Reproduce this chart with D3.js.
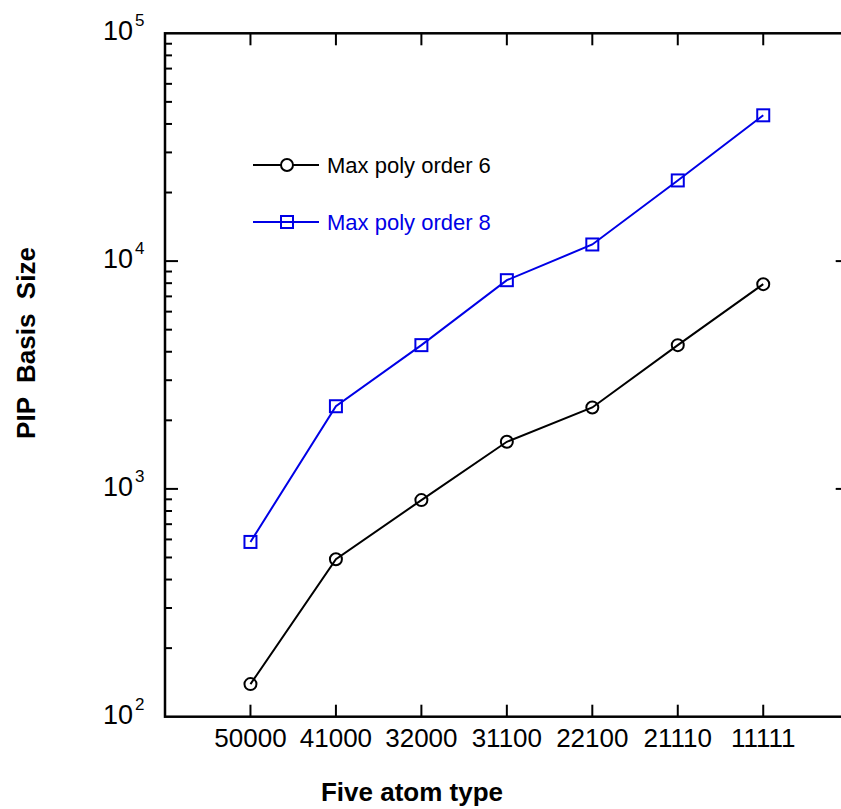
<!DOCTYPE html>
<html>
<head>
<meta charset="utf-8">
<script src="https://cdn.jsdelivr.net/npm/d3@7/dist/d3.min.js"></script>
<style>
  body { margin: 0; background: #fff; }
  svg { display: block; font-family: "Liberation Sans", Arial, sans-serif; }
</style>
</head>
<body>
<svg id="chart" width="841" height="809"></svg>
<script>
// atom types along the x axis
const types = ["50000", "41000", "32000", "31100", "22100", "21110", "11111"];
// PIP basis sizes
const order6 = [139, 491, 893, 1610, 2278, 4276, 7920];
const order8 = [585, 2306, 4276, 8245, 11830, 22600, 43650];
const decades = [100, 1000, 10000, 100000];
const seriesNames = ["Max poly order 6", "Max poly order 8"];

const svg = d3.select("#chart");

const plotLeft = 165, plotRight = 848.7, plotTop = 33.3, plotBottom = 716.7;

let x = d3.scaleLinear()
  .domain([-1, types.length])
  .range([plotLeft, plotRight]);

let y = d3.scaleLog()
  .domain([100, 100000])
  .range([plotBottom, plotTop]);

// frame
svg.append("rect")
  .attr("x", plotLeft).attr("y", plotTop)
  .attr("width", plotRight - plotLeft).attr("height", plotBottom - plotTop)
  .attr("fill", "none").attr("stroke", "#000").attr("stroke-width", 2.5);

// y ticks (log, inside, both sides)
let yTicks = y.ticks();
yTicks.forEach(function(v) {
  let major = decades.includes(v);
  let len = major ? 13 : 7;
  let yy = y(v);
  if (v == 100 || v == 100000) return;
  svg.append("line")
    .attr("x1", plotLeft).attr("x2", plotLeft + len)
    .attr("y1", yy).attr("y2", yy)
    .attr("stroke", "#000").attr("stroke-width", 2);
  svg.append("line")
    .attr("x1", plotRight).attr("x2", plotRight - len)
    .attr("y1", yy).attr("y2", yy)
    .attr("stroke", "#000").attr("stroke-width", 2);
});

// y tick labels 10^n
decades.forEach(function(v) {
  svg.append("text")
    .attr("x", 133).attr("y", y(v) + 7)
    .attr("font-size", 27)
    .attr("text-anchor", "end")
    .text("10");
  svg.append("text")
    .attr("x", 135).attr("y", y(v) - 7)
    .attr("font-size", 17)
    .text(Math.round(Math.log10(v)));
});

// x ticks top and bottom
types.forEach(function(t, i) {
  let xx = x(i);
  svg.append("line")
    .attr("x1", xx).attr("x2", xx)
    .attr("y1", plotBottom).attr("y2", plotBottom - 12)
    .attr("stroke", "#000").attr("stroke-width", 2);
  svg.append("line")
    .attr("x1", xx).attr("x2", xx)
    .attr("y1", plotTop).attr("y2", plotTop + 12)
    .attr("stroke", "#000").attr("stroke-width", 2);
  svg.append("text")
    .attr("x", xx).attr("y", 747)
    .attr("font-size", 26)
    .attr("text-anchor", "middle")
    .text(t);
});

// axis titles
svg.append("text")
  .attr("x", 412).attr("y", 801)
  .attr("font-size", 26).attr("font-weight", "bold")
  .attr("text-anchor", "middle")
  .text("Five atom type");

svg.append("text")
  .attr("transform", "translate(35,343) rotate(-90)")
  .attr("font-size", 26).attr("font-weight", "bold")
  .attr("text-anchor", "middle")
  .style("white-space", "pre")
  .text("PIP  Basis  Size");

let line = d3.line()
  .x(function(d, i) { return x(i); })
  .y(function(d) { return y(d); });

// order 6 series
svg.append("path")
  .datum(order6)
  .attr("d", line)
  .attr("fill", "none").attr("stroke", "#000").attr("stroke-width", 2);

svg.selectAll(".c6")
  .data(order6)
  .enter().append("circle")
  .attr("class", "c6")
  .attr("cx", function(d, i) { return x(i); })
  .attr("cy", function(d) { return y(d); })
  .attr("r", 6)
  .attr("fill", "none").attr("stroke", "#000").attr("stroke-width", 2);

// order 8 series
const blue = "#0000e6";
svg.append("path")
  .datum(order8)
  .attr("d", line)
  .attr("fill", "none").attr("stroke", blue).attr("stroke-width", 2);

svg.selectAll(".s8")
  .data(order8)
  .enter().append("rect")
  .attr("class", "s8")
  .attr("x", function(d, i) { return x(i) - 6; })
  .attr("y", function(d) { return y(d) - 6; })
  .attr("width", 12).attr("height", 12)
  .attr("fill", "none").attr("stroke", blue).attr("stroke-width", 2);

// legend
let legendY = [165, 222];
let legendColor = ["#000", blue];
seriesNames.forEach(function(name, i) {
  let ly = legendY[i];
  svg.append("line")
    .attr("x1", 253).attr("x2", 319)
    .attr("y1", ly).attr("y2", ly)
    .attr("stroke", legendColor[i]).attr("stroke-width", 2);
  if (i == 0) {
    svg.append("circle")
      .attr("cx", 287).attr("cy", ly).attr("r", 6)
      .attr("fill", "#fff").attr("stroke", legendColor[i]).attr("stroke-width", 2);
  } else {
    svg.append("rect")
      .attr("x", 281).attr("y", ly - 6).attr("width", 12).attr("height", 12)
      .attr("fill", "none").attr("stroke", legendColor[i]).attr("stroke-width", 2);
  }
  svg.append("text")
    .attr("x", 327).attr("y", ly + 8)
    .attr("font-size", 22)
    .attr("fill", legendColor[i])
    .text(name);
});
</script>
</body>
</html>
